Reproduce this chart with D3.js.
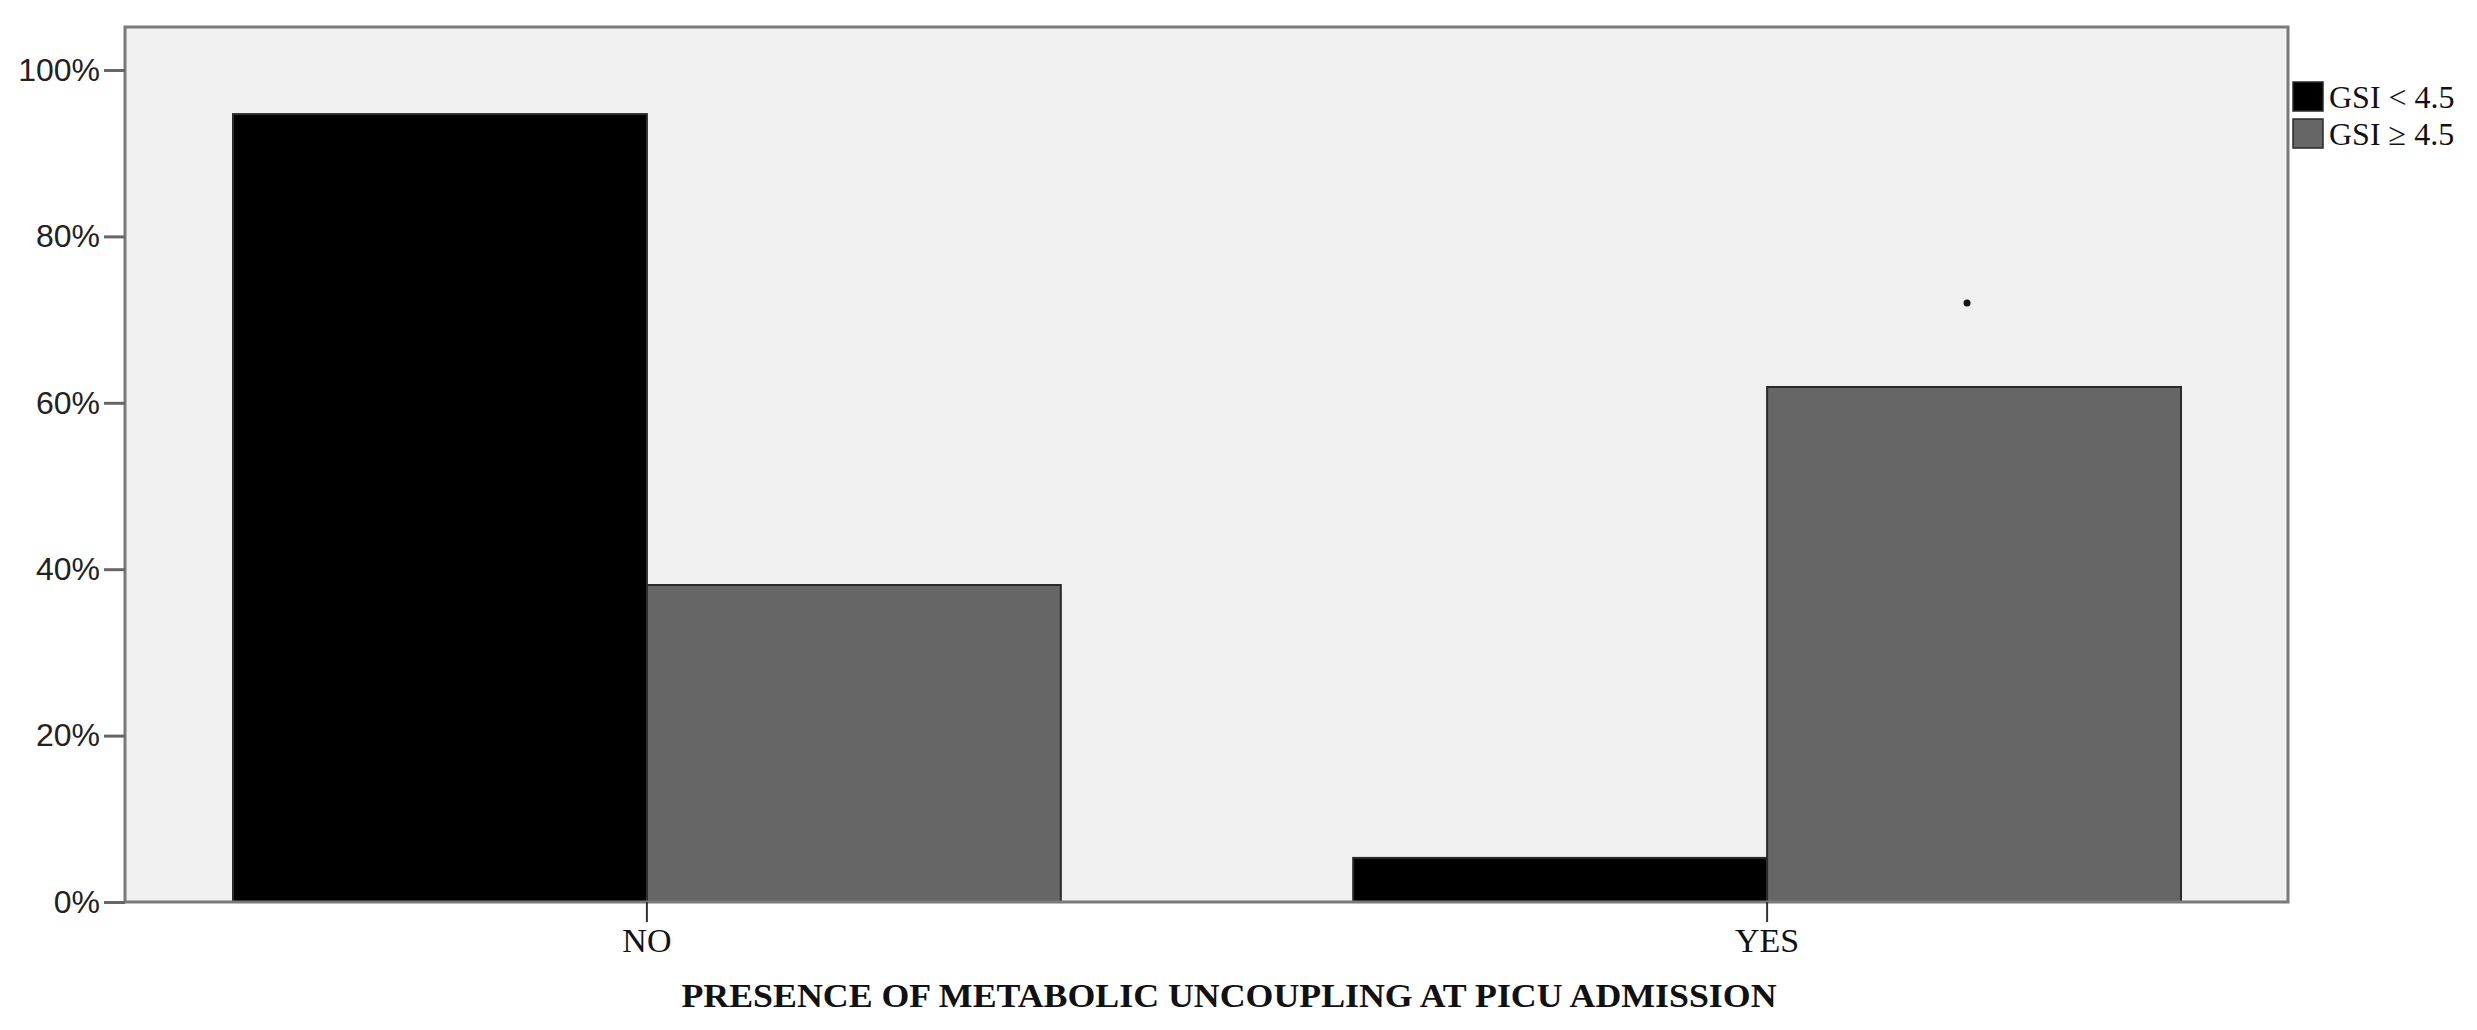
<!DOCTYPE html>
<html>
<head>
<meta charset="utf-8">
<script src="https://cdn.jsdelivr.net/npm/d3@7"></script>
<style>
  html, body { margin: 0; padding: 0; background: #ffffff; }
  svg { display: block; }
</style>
</head>
<body>
<div id="chart"></div>
<script>
// ---- data ----
const categories = ["NO", "YES"];
const seriesNames = ["GSI < 4.5", "GSI \u2265 4.5"];
const seriesLow = [94.7, 5.3];    // GSI < 4.5
const seriesHigh = [38.1, 61.9];  // GSI >= 4.5
const yTicks = [0, 20, 40, 60, 80, 100];
const yTickLabels = ["0%", "20%", "40%", "60%", "80%", "100%"];
const markerPoints = [{ category: "YES", series: "GSI \u2265 4.5", value: 72 }];
const xTitle = "PRESENCE OF METABOLIC UNCOUPLING AT PICU ADMISSION";

// ---- layout ----
const W = 2477, H = 1030;
const frame = { left: 125, right: 2288, top: 27, bottom: 902 };
const colors = ["#000000", "#666666"];

const svg = d3.select("#chart").append("svg").attr("width", W).attr("height", H);

const y = d3.scaleLinear().domain([0, 100]).range([902, 70]);
const x0 = d3.scaleBand().domain(categories).range([233, 2181]).paddingInner(0.261).paddingOuter(0);
const x1 = d3.scaleBand().domain(seriesNames).range([0, x0.bandwidth()]).padding(0);

// plot background
svg.append("rect")
  .attr("x", frame.left).attr("y", frame.top)
  .attr("width", frame.right - frame.left).attr("height", frame.bottom - frame.top)
  .attr("fill", "#f0f0f0");

// bars
const rows = categories.map((c, i) => ({ category: c, values: [seriesLow[i], seriesHigh[i]] }));
const groups = svg.append("g").selectAll("g").data(rows).join("g")
  .attr("transform", d => `translate(${x0(d.category)},0)`);
groups.selectAll("rect")
  .data(d => d.values.map((v, j) => ({ series: seriesNames[j], value: v, j })))
  .join("rect")
  .attr("x", d => x1(d.series))
  .attr("y", d => y(d.value))
  .attr("width", x1.bandwidth())
  .attr("height", d => y(0) - y(d.value))
  .attr("fill", d => colors[d.j])
  .attr("stroke", "#2a2a2a")
  .attr("stroke-width", 2);

// marker point
svg.append("g").selectAll("circle").data(markerPoints).join("circle")
  .attr("cx", d => x0(d.category) + x1(d.series) + x1.bandwidth() / 2 - 7)
  .attr("cy", d => y(d.value))
  .attr("r", 3.5)
  .attr("fill", "#111");

// frame
svg.append("rect")
  .attr("x", frame.left).attr("y", frame.top)
  .attr("width", frame.right - frame.left).attr("height", frame.bottom - frame.top)
  .attr("fill", "none").attr("stroke", "#7a7a7a").attr("stroke-width", 3);

// y axis
const yAxis = d3.axisLeft(y).tickValues(yTicks).tickFormat((d, i) => yTickLabels[i]).tickSize(21).tickPadding(4);
const yg = svg.append("g").attr("transform", `translate(${frame.left},0)`).call(yAxis);
yg.select(".domain").remove();
yg.selectAll(".tick line").attr("stroke", "#666").attr("stroke-width", 3);
yg.selectAll(".tick text")
  .attr("font-family", "'Liberation Sans', Arial, sans-serif")
  .attr("font-size", 32)
  .attr("fill", "#222");

// x axis
const xAxis = d3.axisBottom(x0).tickSize(20).tickPadding(6);
const xg = svg.append("g").attr("transform", `translate(0,${frame.bottom})`).call(xAxis);
xg.select(".domain").remove();
xg.selectAll(".tick line").attr("stroke", "#333").attr("stroke-width", 2);
xg.selectAll(".tick text")
  .attr("font-family", "'Liberation Serif', 'Times New Roman', serif")
  .attr("font-size", 34)
  .attr("fill", "#111")
  .attr("dy", "0.72em");

// x title
svg.append("text")
  .attr("x", 1229).attr("y", 1007)
  .attr("text-anchor", "middle")
  .attr("font-family", "'Liberation Serif', 'Times New Roman', serif")
  .attr("font-weight", "bold")
  .attr("font-size", 34)
  .attr("fill", "#111")
  .attr("textLength", 1095)
  .attr("lengthAdjust", "spacingAndGlyphs")
  .text(xTitle);

// legend
const legend = svg.append("g").selectAll("g").data(seriesNames).join("g")
  .attr("transform", (d, i) => `translate(2293,${82 + i * 37})`);
legend.append("rect")
  .attr("width", 30).attr("height", 29)
  .attr("fill", (d, i) => colors[i])
  .attr("stroke", "#2a2a2a").attr("stroke-width", 1.5);
legend.append("text")
  .attr("x", 36).attr("y", 26)
  .attr("font-family", "'Liberation Serif', 'Times New Roman', serif")
  .attr("font-size", 32)
  .attr("fill", "#111")
  .text(d => d);
</script>
</body>
</html>
